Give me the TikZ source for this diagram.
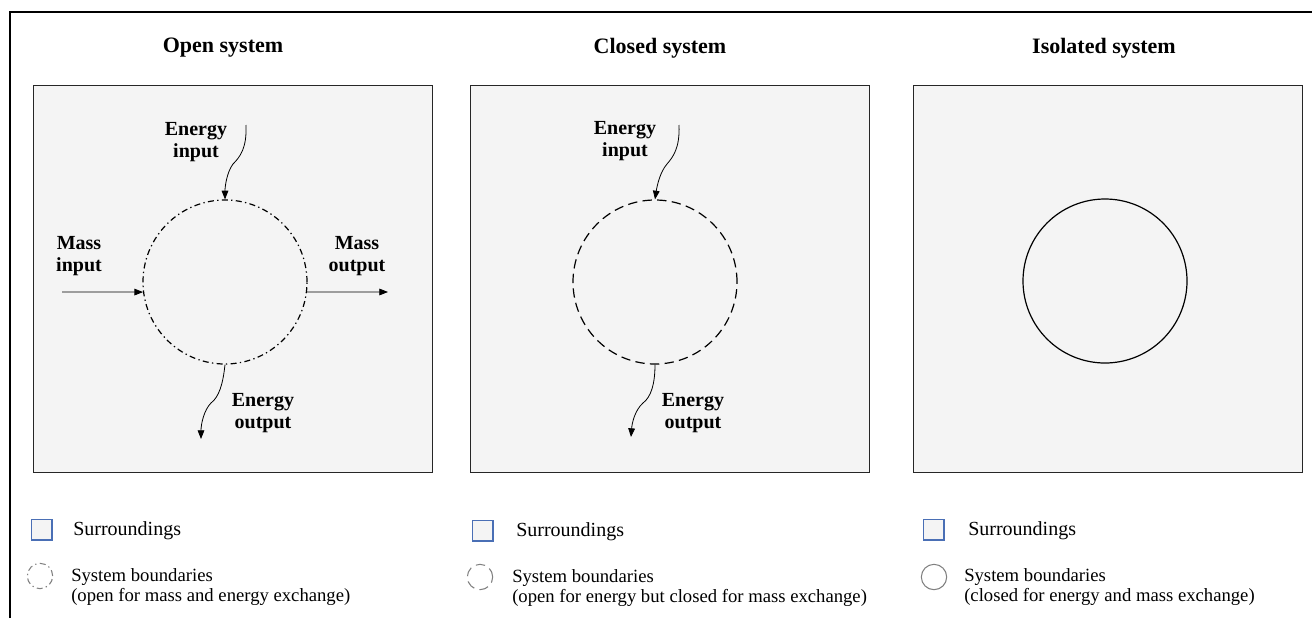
\documentclass[tikz,border=0pt]{standalone}
\usepackage{fontspec}
\setmainfont{Liberation Serif}
\usetikzlibrary{arrows.meta,positioning}
\definecolor{surrgray}{HTML}{F4F4F4}
\definecolor{legblue}{HTML}{4A6FB5}
\definecolor{leggray}{HTML}{808080}

\tikzset{
surr/.style={draw=black!85,fill=surrgray,line width=0.6pt},
bound/.style={circle,draw,line width=0.9pt,minimum size=123pt,inner sep=0pt},
dashdot/.style={dash pattern=on 4.5pt off 2.5pt on 1pt off 2.5pt},
dashlong/.style={dash pattern=on 7pt off 4pt},
flow/.style={line width=0.6pt,-{Triangle[length=6.5pt,width=5pt]}},
lbl/.style={font=\fontsize{15}{16}\selectfont\bfseries,align=center,inner sep=0pt},
title/.style={font=\fontsize{16.5}{18}\selectfont\bfseries,inner sep=0pt},
legtext/.style={font=\fontsize{14}{15}\selectfont,align=left,anchor=west,inner sep=0pt},
legbox/.style={draw=legblue,fill=surrgray,line width=1pt,minimum size=15.5pt,inner sep=0pt},
legcirc/.style={circle,draw=leggray,line width=0.8pt,minimum size=19pt,inner sep=0pt}
}

\begin{document}
\begin{tikzpicture}[x=0.75pt,y=-0.75pt]
\useasboundingbox (0,0) rectangle (1312,618);
\draw[line width=1.8pt] (10,618) -- (10,12) -- (1312,12);

% titles
\node[title] (topen) at (223,48) {Open system};
\node[title] (tclosed) at (660,48) {Closed system};
\node[title] (tiso) at (1104,48) {Isolated system};

% surroundings
\draw[surr] (33,85) rectangle (432,472);
\draw[surr] (470,85) rectangle (869,472);
\draw[surr] (913,85) rectangle (1302,472);

% open system
\node[bound,dashdot] (cir1) at (225,282) {};
\coordinate (ein1) at (246,125);
\coordinate (eout1) at (201,439);
\coordinate (min1) at (62,292);
\coordinate (mout1) at (388,292);
\draw[flow] (ein1) .. controls (247,148) and (240,157) .. (233,164) .. controls (227,172) and (225,186) .. (cir1.north);
\draw[flow] (cir1.south) .. controls (223,384) and (219,397) .. (211,403) .. controls (204,410) and (201,424) .. (eout1);
\draw[flow] (min1) -- (cir1.187);
\draw[flow] (cir1.-7) -- (mout1);
\node[lbl] (ein1lbl) at (196,142) {Energy\\input};
\node[lbl] (eout1lbl) at (263,413) {Energy\\output};
\node[lbl] (min1lbl) at (79,256) {Mass\\input};
\node[lbl] (mout1lbl) at (357,256) {Mass\\output};

% closed system
\node[bound,dashlong] (cir2) at (655,282) {};
\coordinate (ein2) at (679,125);
\coordinate (eout2) at (631,437);
\draw[flow] (ein2) .. controls (680,148) and (673,157) .. (667,164) .. controls (660,172) and (657,186) .. (cir2.north);
\draw[flow] (cir2.south) .. controls (655,384) and (651,397) .. (643,403) .. controls (635,410) and (632,423) .. (eout2);
\node[lbl] (ein2lbl) at (625,141) {Energy\\input};
\node[lbl] (eout2lbl) at (693,413) {Energy\\output};

% isolated system
\node[bound] (cir3) at (1105,281) {};

% legend
\node[legbox] (sq1) at (41.5,529.5) {};
\node[legtext,font=\fontsize{15}{15}\selectfont] (sq1txt) at (73,531) {Surroundings};
\node[legcirc,dashdot] (lc1) at (40,576) {};
\node[legtext] (lc1txt) at (71,587) {System boundaries\\(open for mass and energy exchange)};

\node[legbox] (sq2) at (482.5,530.5) {};
\node[legtext,font=\fontsize{15}{15}\selectfont] (sq2txt) at (516,532) {Surroundings};
\node[legcirc,dashlong] (lc2) at (480,577) {};
\node[legtext] (lc2txt) at (512,588) {System boundaries\\(open for energy but closed for mass exchange)};

\node[legbox] (sq3) at (933.5,529.5) {};
\node[legtext,font=\fontsize{15}{15}\selectfont] (sq3txt) at (968,531) {Surroundings};
\node[legcirc] (lc3) at (934,577) {};
\node[legtext] (lc3txt) at (964,587) {System boundaries\\(closed for energy and mass exchange)};
\end{tikzpicture}
\end{document}
